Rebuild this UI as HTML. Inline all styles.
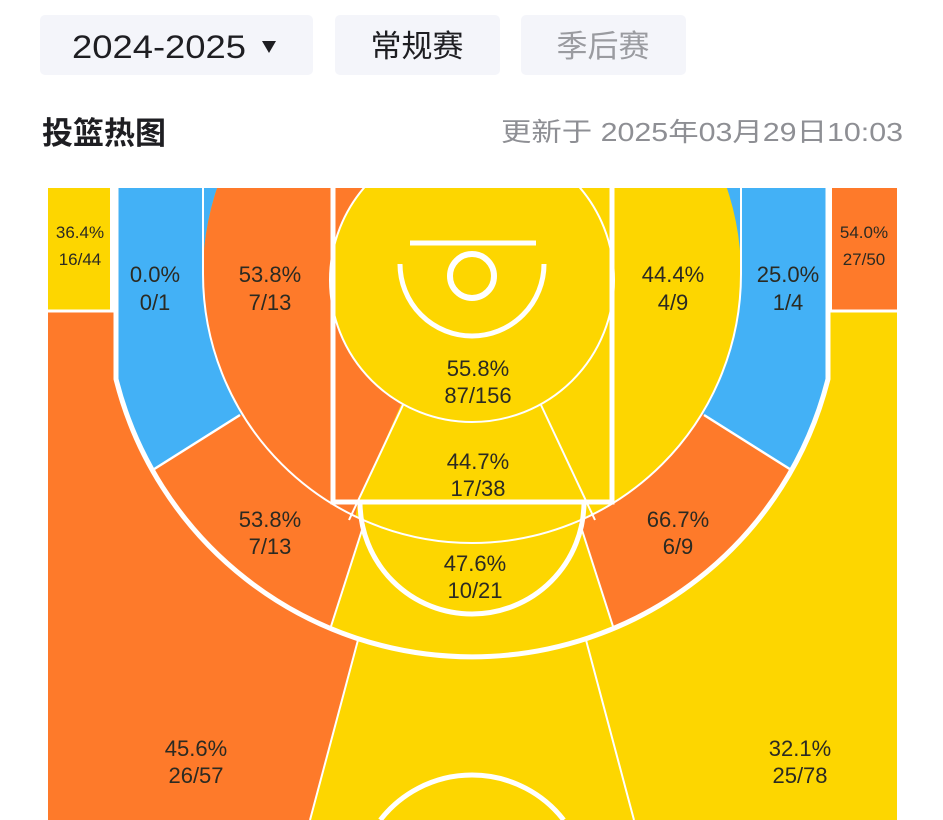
<!DOCTYPE html>
<html><head><meta charset="utf-8"><style>
html,body{margin:0;padding:0;background:#fff;width:943px;height:820px;overflow:hidden}
svg{display:block}
</style></head><body>
<svg width="943" height="820" viewBox="0 0 943 820" xmlns="http://www.w3.org/2000/svg" font-family="'Liberation Sans','Noto Sans CJK SC',sans-serif" style="overflow:hidden">
<defs>
<clipPath id="c3"><path d="M116,188 L116,379 A367,367 0 0 0 828,379 L828,188 Z"/></clipPath>
<clipPath id="ci"><circle cx="472" cy="274" r="269"/></clipPath>
<clipPath id="court"><rect x="48" y="188" width="849" height="632"/></clipPath>
</defs>
<rect x="40" y="15" width="273" height="60" rx="5" fill="#f4f5fa"/>
<text x="72" y="58" font-size="32" fill="#1e1e22" textLength="174" lengthAdjust="spacingAndGlyphs">2024-2025</text>
<path d="M262,41 L276,41 L269,53 Z" fill="#1e1e22"/>
<rect x="335" y="15" width="165" height="60" rx="5" fill="#f4f5fa"/>
<text x="417" y="57" font-size="31" fill="#1e1e22" text-anchor="middle">常规赛</text>
<rect x="521" y="15" width="165" height="60" rx="5" fill="#f4f5fa"/>
<text x="603" y="57" font-size="31" fill="#9a9ba0" text-anchor="middle">季后赛</text>
<text x="42" y="144" font-size="31" font-weight="bold" fill="#1e1e22">投篮热图</text>
<text x="903" y="141" font-size="26" fill="#8e8f94" text-anchor="end" textLength="402" lengthAdjust="spacingAndGlyphs">更新于 2025年03月29日10:03</text>

<g clip-path="url(#court)">
<rect x="48" y="188" width="849" height="632" fill="#fdd600"/>
<polygon points="48,188 379,560 310,820 48,820" fill="#fe7a2a"/>
<rect x="48" y="188" width="66" height="122" fill="#fdd600"/>
<rect x="830" y="188" width="67" height="122" fill="#fe7a2a"/>
<g clip-path="url(#c3)">
<rect x="100" y="188" width="760" height="480" fill="#fdd600"/>
<polygon points="100,188 472,188 472,270 100,503" fill="#43b1f6"/>
<polygon points="472,270 100,503 100,820 307,700 362,530" fill="#fe7a2a"/>
<polygon points="472,188 845,188 845,503 472,270" fill="#43b1f6"/>
<polygon points="472,270 845,503 845,820 637,700 582,530" fill="#fe7a2a"/>
</g>
<g clip-path="url(#ci)">
<rect x="190" y="188" width="570" height="360" fill="#fdd600"/>
<polygon points="190,188 472,188 472,270 403,400 358,502 350,548 190,548" fill="#fe7a2a"/>
</g>
<circle cx="472" cy="280" r="142" fill="#fdd600"/>
<g fill="none" stroke="#fff">
<g clip-path="url(#c3)">
<line x1="140" y1="478" x2="240" y2="415" stroke-width="2.5"/>
<line x1="804" y1="478" x2="704" y2="415" stroke-width="2.5"/>
<line x1="362" y1="530" x2="325" y2="645" stroke-width="2"/>
<line x1="582" y1="530" x2="619" y2="645" stroke-width="2"/>
</g>
<path d="M116,188 L116,379 A367,367 0 0 0 828,379 L828,188" stroke-width="5"/>
<line x1="112" y1="188" x2="112" y2="312" stroke-width="4"/>
<line x1="48" y1="311" x2="114" y2="311" stroke-width="3"/>
<line x1="830" y1="188" x2="830" y2="312" stroke-width="4"/>
<line x1="830" y1="311" x2="897" y2="311" stroke-width="3"/>
<path d="M203,274 A269,269 0 0 0 741,274" stroke-width="2"/>
<line x1="203" y1="274" x2="203" y2="188" stroke-width="2"/>
<line x1="741" y1="274" x2="741" y2="188" stroke-width="2"/>
<line x1="403" y1="405" x2="349" y2="520" stroke-width="2"/>
<line x1="541" y1="405" x2="595" y2="520" stroke-width="2"/>
<line x1="358" y1="640" x2="310" y2="820" stroke-width="2"/>
<line x1="586" y1="640" x2="634" y2="820" stroke-width="2"/>
<circle cx="472" cy="280" r="142" stroke-width="2"/>
<rect x="333" y="180" width="279" height="322" stroke-width="5"/>
<path d="M360,502 A112,112 0 0 0 584,502" stroke-width="5"/>
<line x1="410" y1="243" x2="536" y2="243" stroke-width="5"/>
<circle cx="472" cy="276" r="22" stroke-width="6"/>
<path d="M400,264 A72,72 0 0 0 544,264" stroke-width="5"/>
<path d="M380.3,820 A116,116 0 0 1 563.7,820" stroke-width="5"/>
</g>
</g>
<g fill="#2b2a22" text-anchor="middle" font-size="22">
<text x="80" y="238" font-size="17">36.4%</text><text x="80" y="265" font-size="17">16/44</text>
<text x="864" y="238" font-size="17">54.0%</text><text x="864" y="265" font-size="17">27/50</text>
<text x="155" y="282">0.0%</text><text x="155" y="310">0/1</text>
<text x="270" y="282">53.8%</text><text x="270" y="310">7/13</text>
<text x="478" y="376">55.8%</text><text x="478" y="403">87/156</text>
<text x="673" y="282">44.4%</text><text x="673" y="310">4/9</text>
<text x="788" y="282">25.0%</text><text x="788" y="310">1/4</text>
<text x="478" y="469">44.7%</text><text x="478" y="496">17/38</text>
<text x="270" y="527">53.8%</text><text x="270" y="554">7/13</text>
<text x="678" y="527">66.7%</text><text x="678" y="554">6/9</text>
<text x="475" y="571">47.6%</text><text x="475" y="598">10/21</text>
<text x="196" y="756">45.6%</text><text x="196" y="783">26/57</text>
<text x="800" y="756">32.1%</text><text x="800" y="783">25/78</text>
</g>
</svg>
</body></html>
